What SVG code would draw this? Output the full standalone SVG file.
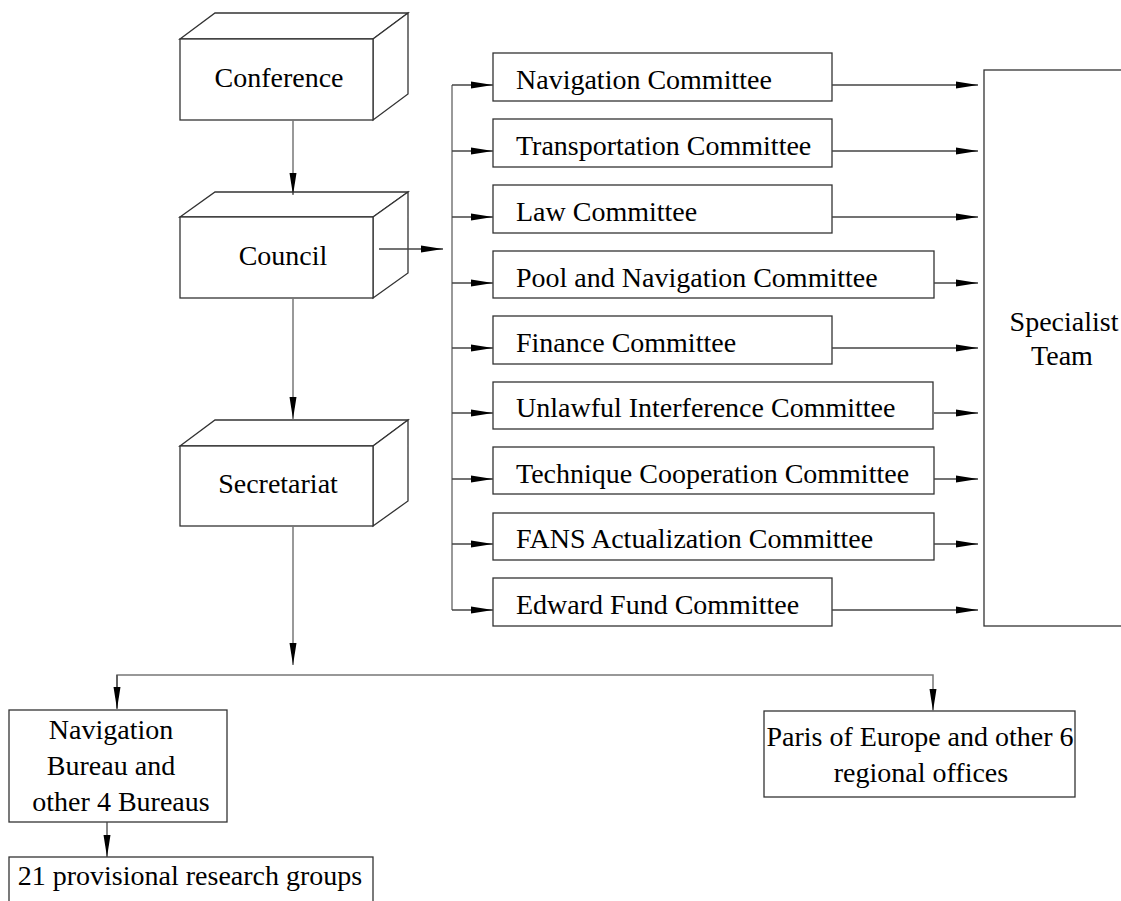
<svg xmlns="http://www.w3.org/2000/svg" width="1121" height="901" viewBox="0 0 1121 901">
<style>
.bx{fill:#fff;stroke:#333;stroke-width:1.3}
.c{fill:none;stroke:#444;stroke-width:1.3}
.cg{fill:none;stroke:#777;stroke-width:1.5}
text{font-family:"Liberation Serif","Times New Roman",serif;font-size:28px;fill:#000}
.m{text-anchor:middle}
</style>
<defs>
<marker id="ah" markerWidth="22" markerHeight="8" refX="22" refY="4" orient="auto" markerUnits="userSpaceOnUse">
<path d="M0,0.5 L22,4 L0,7.5 z" fill="#000"/>
</marker>
</defs>
<rect width="1121" height="901" fill="#fff"/>
<g id="conference">
<polygon class="bx" points="180,39 215,13 408,13 373,39"/>
<polygon class="bx" points="373,39 408,13 408,94 373,120"/>
<rect class="bx" x="180" y="39" width="193" height="81"/>
<text class="m" x="279" y="87">Conference</text>
</g>
<g id="council">
<polygon class="bx" points="180,217 215,192 408,192 373,217"/>
<polygon class="bx" points="373,217 408,192 408,273 373,298"/>
<rect class="bx" x="180" y="217" width="193" height="81"/>
<text class="m" x="283" y="265">Council</text>
</g>
<g id="secretariat">
<polygon class="bx" points="180,446 215,420 408,420 373,446"/>
<polygon class="bx" points="373,446 408,420 408,501 373,526"/>
<rect class="bx" x="180" y="446" width="193" height="80"/>
<text class="m" x="278" y="493">Secretariat</text>
</g>
<g id="c1"><rect class="bx" x="493" y="53" width="339" height="48"/><text x="516" y="89">Navigation Committee</text></g>
<g id="c2"><rect class="bx" x="493" y="119" width="339" height="48"/><text x="516" y="155">Transportation Committee</text></g>
<g id="c3"><rect class="bx" x="493" y="185" width="339" height="48"/><text x="516" y="221">Law Committee</text></g>
<g id="c4"><rect class="bx" x="493" y="251" width="441" height="47"/><text x="516" y="287">Pool and Navigation Committee</text></g>
<g id="c5"><rect class="bx" x="493" y="316" width="339" height="48"/><text x="516" y="352">Finance Committee</text></g>
<g id="c6"><rect class="bx" x="493" y="382" width="440" height="47"/><text x="516" y="417">Unlawful Interference Committee</text></g>
<g id="c7"><rect class="bx" x="493" y="447" width="441" height="47"/><text x="516" y="483">Technique Cooperation Committee</text></g>
<g id="c8"><rect class="bx" x="493" y="513" width="441" height="47"/><text x="516" y="548">FANS Actualization Committee</text></g>
<g id="c9"><rect class="bx" x="493" y="578" width="339" height="48"/><text x="516" y="614">Edward Fund Committee</text></g>
<g id="specialist">
<rect class="bx" x="984" y="70" width="160" height="556"/>
<text class="m" x="1064" y="331">Specialist</text>
<text class="m" x="1062" y="365">Team</text>
</g>
<g id="bureau">
<rect class="bx" x="9" y="710" width="218" height="112"/>
<text class="m" x="111" y="739">Navigation</text>
<text class="m" x="111" y="775">Bureau and</text>
<text class="m" x="121" y="811">other 4 Bureaus</text>
</g>
<g id="regional">
<rect class="bx" x="764" y="711" width="311" height="86"/>
<text class="m" x="920" y="746">Paris of Europe and other 6</text>
<text class="m" x="921" y="782">regional offices</text>
</g>
<g id="groups">
<rect class="bx" x="9" y="857" width="364" height="60"/>
<text class="m" x="190" y="885">21 provisional research groups</text>
</g>
<g id="connectors">
<line class="cg" x1="293" y1="120" x2="293" y2="195" marker-end="url(#ah)"/>
<line class="cg" x1="293" y1="298" x2="293" y2="419" marker-end="url(#ah)"/>
<line class="c" x1="379" y1="249" x2="443" y2="249" marker-end="url(#ah)"/>
<line class="cg" x1="293" y1="526" x2="293" y2="665" marker-end="url(#ah)"/>
<polyline class="cg" points="117,708 117,675 933,675 933,711" marker-end="url(#ah)"/>
<line class="c" x1="117" y1="675" x2="117" y2="709" marker-end="url(#ah)"/>
<line class="c" x1="107" y1="822" x2="107" y2="857" marker-end="url(#ah)"/>
<line class="cg" x1="452" y1="85" x2="452" y2="610"/>
<line class="c" x1="452" y1="85" x2="493" y2="85" marker-end="url(#ah)"/>
<line class="c" x1="452" y1="151" x2="493" y2="151" marker-end="url(#ah)"/>
<line class="c" x1="452" y1="217" x2="493" y2="217" marker-end="url(#ah)"/>
<line class="c" x1="452" y1="283" x2="493" y2="283" marker-end="url(#ah)"/>
<line class="c" x1="452" y1="348" x2="493" y2="348" marker-end="url(#ah)"/>
<line class="c" x1="452" y1="413" x2="493" y2="413" marker-end="url(#ah)"/>
<line class="c" x1="452" y1="479" x2="493" y2="479" marker-end="url(#ah)"/>
<line class="c" x1="452" y1="544" x2="493" y2="544" marker-end="url(#ah)"/>
<line class="c" x1="452" y1="610" x2="493" y2="610" marker-end="url(#ah)"/>
<line class="c" x1="832" y1="85" x2="978" y2="85" marker-end="url(#ah)"/>
<line class="c" x1="832" y1="151" x2="978" y2="151" marker-end="url(#ah)"/>
<line class="c" x1="832" y1="217" x2="978" y2="217" marker-end="url(#ah)"/>
<line class="c" x1="934" y1="283" x2="978" y2="283" marker-end="url(#ah)"/>
<line class="c" x1="832" y1="348" x2="978" y2="348" marker-end="url(#ah)"/>
<line class="c" x1="934" y1="413" x2="978" y2="413" marker-end="url(#ah)"/>
<line class="c" x1="934" y1="479" x2="978" y2="479" marker-end="url(#ah)"/>
<line class="c" x1="934" y1="544" x2="978" y2="544" marker-end="url(#ah)"/>
<line class="c" x1="832" y1="610" x2="978" y2="610" marker-end="url(#ah)"/>
</g>
</svg>
